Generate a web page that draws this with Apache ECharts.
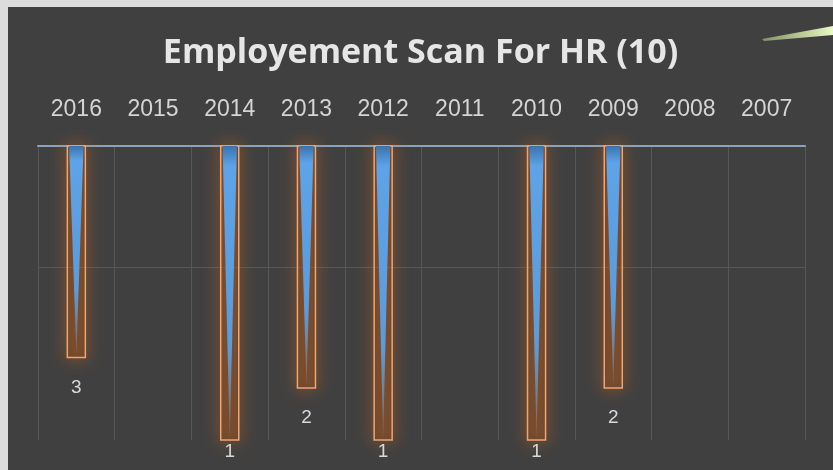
<!DOCTYPE html>
<html>
<head>
<meta charset="utf-8">
<script src="https://cdn.jsdelivr.net/npm/echarts@6/dist/echarts.min.js"></script>
<style>
  html, body { margin: 0; padding: 0; background: #dcdcdc; }
  #chart { position: absolute; left: 8px; top: 7px; width: 825px; height: 463px; }
</style>
</head>
<body>
<div id="chart"></div>
<script>
// years on the category axis (newest first, as in the picture)
const years = ['2016', '2015', '2014', '2013', '2012', '2011', '2010', '2009', '2008', '2007'];
// hires per year (empty years have no bar)
const hires = [3, null, 1, 2, 1, null, 1, 2, null, null];
// log value axis, bars hang from the top (max) down to the value
const axisMin = 1;
const axisMax = 50;

const barData = [];
hires.forEach((v, i) => {
  if (v != null) barData.push([i, v]);
});

const chart = echarts.init(document.getElementById('chart'));

chart.setOption({
  backgroundColor: '#404040',
  title: {
    text: 'Employement Scan For HR (10)',
    left: 'center',
    top: 24,
    textStyle: {
      color: '#e6e6e6',
      fontFamily: 'Open Sans',
      fontSize: 34,
      fontWeight: 'bold'
    }
  },
  graphic: [
    {
      // little green streak in the top right corner
      type: 'polygon',
      shape: { points: [[754, 32], [825, 19], [825, 28], [756, 34]] },
      style: {
        fill: new echarts.graphic.LinearGradient(0, 0, 1, 0, [
          { offset: 0, color: 'rgba(200,230,140,0.5)' },
          { offset: 1, color: 'rgba(235,250,200,1)' }
        ])
      },
      silent: true
    }
  ],
  grid: { left: 30, right: 28, top: 139, bottom: 30 },
  xAxis: {
    type: 'category',
    position: 'top',
    data: years,
    axisLine: { lineStyle: { color: '#8aa2bd', width: 2 } },
    axisTick: { show: false },
    axisLabel: { color: '#d4d4d4', fontSize: 23, fontFamily: 'Liberation Sans', margin: 25 },
    splitLine: { show: true, lineStyle: { color: '#575757', width: 1 } }
  },
  yAxis: {
    type: 'log',
    logBase: 10,
    min: axisMin,
    max: axisMax,
    axisLine: { show: false },
    axisTick: { show: false },
    axisLabel: { show: false },
    splitLine: { show: true, showMinLine: false, showMaxLine: false, lineStyle: { color: '#575757', width: 1 } }
  },
  series: [
    {
      type: 'custom',
      data: barData,
      renderItem: function (params, api) {
        const idx = api.value(0);
        const top = api.coord([idx, axisMax]);
        const end = api.coord([idx, api.value(1)]);
        const w = api.size([1, 0])[0] * 0.235;
        const x0 = top[0] - w / 2;
        const h = end[1] - top[1];
        const tw = w * 0.8;
        const labelY = Math.min(end[1] + 30, api.getHeight() - 18);
        return {
          type: 'group',
          children: [
            {
              type: 'rect',
              shape: { x: x0, y: top[1], width: w, height: h },
              style: {
                fill: 'rgba(160,75,20,0.25)',
                stroke: '#f2a46e',
                lineWidth: 1.5,
                shadowBlur: 16,
                shadowColor: 'rgba(235,110,25,1)'
              }
            },
            {
              type: 'polygon',
              shape: {
                points: [
                  [top[0] - tw / 2, top[1]],
                  [top[0] + tw / 2, top[1]],
                  [top[0], end[1] - 3]
                ]
              },
              style: {
                fill: new echarts.graphic.LinearGradient(0, 0, 0, 1, [
                  { offset: 0, color: '#3a74ad' },
                  { offset: 0.07, color: '#5ea3e8' },
                  { offset: 0.7, color: '#5a9bdb' },
                  { offset: 1, color: 'rgba(130,140,150,0.5)' }
                ])
              }
            },
            {
              type: 'text',
              style: {
                text: String(api.value(1)),
                x: top[0],
                y: labelY,
                align: 'center',
                verticalAlign: 'middle',
                fill: '#d9d9d9',
                fontSize: 19,
                fontFamily: 'Liberation Sans'
              }
            }
          ]
        };
      }
    }
  ]
});
</script>
</body>
</html>
